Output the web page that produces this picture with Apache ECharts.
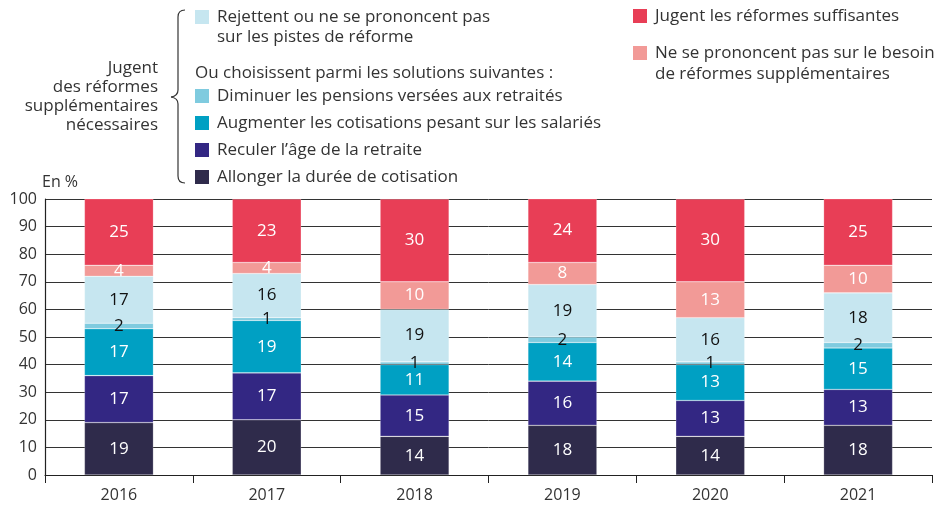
<!DOCTYPE html>
<html>
<head>
<meta charset="utf-8">
<script src="https://cdn.jsdelivr.net/npm/echarts@6/dist/echarts.min.js"></script>
<style>
  html, body { margin: 0; padding: 0; background: #fff; }
  #chart { width: 942px; height: 510px; }
</style>
</head>
<body>
<div id="chart"></div>
<script>
const years = ['2016', '2017', '2018', '2019', '2020', '2021']

// bottom to top
const allonger = [19, 20, 14, 18, 14, 18]
const reculer = [17, 17, 15, 16, 13, 13]
const augmenter = [17, 19, 11, 14, 13, 15]
const diminuer = [2, 1, 1, 2, 1, 2]
const rejettent = [17, 16, 19, 19, 16, 18]
const neSePrononcent = [4, 4, 10, 8, 13, 10]
const suffisantes = [25, 23, 30, 24, 30, 25]

const FONT = '"Open Sans"'
const TEXT = '#333'

const COLORS = {
  allonger: '#2f2b4b',
  reculer: '#332783',
  augmenter: '#00a0c3',
  diminuer: '#7fcbdf',
  rejettent: '#c6e6f0',
  neSePrononcent: '#f29a97',
  suffisantes: '#e83e56'
}

function barSeries(name, data, color, labelColor) {
  return {
    name: name,
    type: 'bar',
    stack: 'total',
    barWidth: 69,
    data: data,
    itemStyle: {
      color: color,
      borderColor: 'rgba(255,255,255,0.35)',
      borderWidth: 0.6
    },
    label: {
      show: true,
      position: 'inside',
      color: labelColor,
      fontFamily: FONT,
      fontSize: 17
    }
  }
}

function legendBox(x, y, color) {
  return { type: 'rect', x: x, y: y, shape: { x: 0, y: 0, width: 14, height: 14 }, style: { fill: color } }
}

function legendText(x, y, text, lineHeight) {
  return {
    type: 'text', x: x, y: y,
    style: { text: text, fill: TEXT, font: '17px ' + FONT, lineHeight: lineHeight || 20 }
  }
}

const braceStyle = { fill: 'none', stroke: '#333', lineWidth: 1.2 }
function braceCurve(x1, y1, cx, cy, x2, y2) {
  return { type: 'bezierCurve', shape: { x1: x1, y1: y1, cpx1: cx, cpy1: cy, x2: x2, y2: y2 }, style: braceStyle }
}
function braceLine(x1, y1, x2, y2) {
  return { type: 'line', shape: { x1: x1, y1: y1, x2: x2, y2: y2 }, style: braceStyle }
}

let chart = echarts.init(document.getElementById('chart'))

chart.setOption({
  animation: false,
  backgroundColor: '#fff',
  textStyle: { fontFamily: FONT },
  grid: { left: 45, right: 10, top: 199, bottom: 35 },
  xAxis: {
    type: 'category',
    data: years,
    axisLine: { lineStyle: { color: '#222', width: 1.2 } },
    axisTick: { show: true, length: 8, inside: false, lineStyle: { color: '#222' } },
    axisLabel: { color: TEXT, fontSize: 16, margin: 12, fontFamily: FONT }
  },
  yAxis: {
    type: 'value',
    min: 0,
    max: 100,
    interval: 10,
    axisLine: { show: true, lineStyle: { color: '#222', width: 1.2 } },
    axisTick: { show: false },
    axisLabel: { color: TEXT, fontSize: 16, margin: 8, fontFamily: FONT },
    splitLine: { lineStyle: { color: '#333', width: 1 } }
  },
  graphic: [
    { type: 'text', x: 42, y: 174, style: { text: 'En %', fill: TEXT, font: '16px ' + FONT } },
    {
      type: 'text', x: 158, y: 59,
      style: {
        text: 'Jugent\ndes réformes\nsupplémentaires\nnécessaires',
        fill: TEXT, font: '17px ' + FONT, align: 'right', lineHeight: 19
      }
    },
    braceCurve(185, 10, 178, 10, 178, 17),
    braceLine(178, 17, 178, 90),
    braceCurve(178, 90, 178, 96, 171, 97),
    braceCurve(171, 97, 178, 98, 178, 104),
    braceLine(178, 104, 178, 176),
    braceCurve(178, 176, 178, 183, 185, 183),
    legendBox(195, 10, COLORS.rejettent),
    legendText(217, 7, 'Rejettent ou ne se prononcent pas\nsur les pistes de réforme'),
    legendText(195, 63, 'Ou choisissent parmi les solutions suivantes :'),
    legendBox(195, 89, COLORS.diminuer),
    legendText(217, 86, 'Diminuer les pensions versées aux retraités'),
    legendBox(195, 116, COLORS.augmenter),
    legendText(217, 113, 'Augmenter les cotisations pesant sur les salariés'),
    legendBox(195, 143, COLORS.reculer),
    legendText(217, 140, 'Reculer l’âge de la retraite'),
    legendBox(195, 170, COLORS.allonger),
    legendText(217, 167, 'Allonger la durée de cotisation'),
    legendBox(633, 9, COLORS.suffisantes),
    legendText(655, 6, 'Jugent les réformes suffisantes'),
    legendBox(633, 46, COLORS.neSePrononcent),
    legendText(655, 43, 'Ne se prononcent pas sur le besoin\nde réformes supplémentaires', 21)
  ],
  series: [
    barSeries('Allonger la durée de cotisation', allonger, COLORS.allonger, '#fff'),
    barSeries('Reculer l’âge de la retraite', reculer, COLORS.reculer, '#fff'),
    barSeries('Augmenter les cotisations pesant sur les salariés', augmenter, COLORS.augmenter, '#fff'),
    barSeries('Diminuer les pensions versées aux retraités', diminuer, COLORS.diminuer, '#111'),
    barSeries('Rejettent ou ne se prononcent pas sur les pistes de réforme', rejettent, COLORS.rejettent, '#111'),
    barSeries('Ne se prononcent pas sur le besoin de réformes supplémentaires', neSePrononcent, COLORS.neSePrononcent, '#fff'),
    barSeries('Jugent les réformes suffisantes', suffisantes, COLORS.suffisantes, '#fff')
  ]
})
</script>
</body>
</html>
